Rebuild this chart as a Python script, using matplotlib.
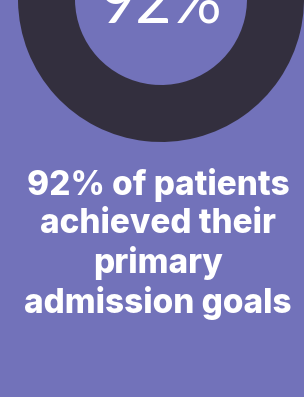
import matplotlib.pyplot as plt

values = [92, 8]
big_label = '92%'
caption_lines = ['92% of patients', 'achieved their', 'primary', 'admission goals']

bg = '#7272BA'
ring = '#332F3E'

fig = plt.figure(figsize=(3.04, 3.97), dpi=100, facecolor=bg)
ax = fig.add_axes([0, 0, 1, 1])
ax.set_facecolor(bg)

ax.pie(values, colors=[ring, '#9C9AD0'], startangle=90, counterclock=False,
       center=(161, 398), radius=143, frame=True,
       wedgeprops=dict(width=57, edgecolor='none'))
ax.set_xlim(0, 304)
ax.set_ylim(0, 397)
ax.axis('off')

ax.text(161, 397 - 23, big_label, ha='center', va='baseline', color='white',
        fontsize=45, family='Lato', fontweight='normal')

ax.text(158, 397 - 168, '\n'.join(caption_lines), ha='center', va='top',
        color='white', fontsize=24, family='Inter', fontweight='heavy',
        linespacing=1.23)

fig.savefig('out.png', dpi=100, facecolor=bg)
